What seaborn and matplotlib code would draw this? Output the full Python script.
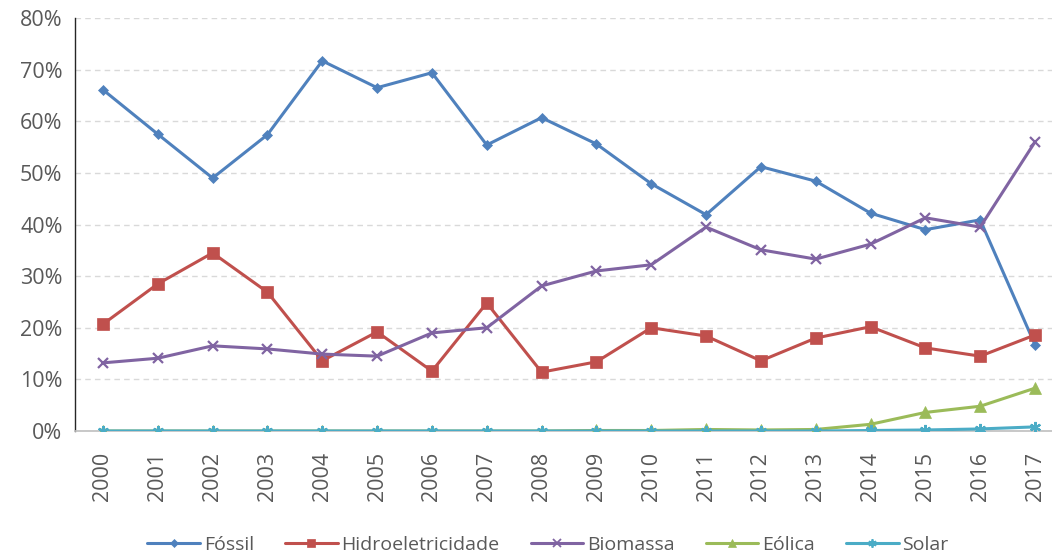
import pandas as pd
import matplotlib.pyplot as plt
import seaborn as sns
import numpy as np
from matplotlib.lines import Line2D

years = [str(y) for y in range(2000, 2018)]

fossil = [66.1, 57.5, 49.0, 57.4, 71.7, 66.5, 69.4, 55.4, 60.7, 55.6,
          47.9, 41.9, 51.2, 48.4, 42.2, 39.0, 40.9, 16.7]
hidro = [20.7, 28.5, 34.5, 26.9, 13.6, 19.2, 11.6, 24.8, 11.4, 13.4,
         20.0, 18.4, 13.6, 18.0, 20.2, 16.1, 14.5, 18.6]
biomassa = [13.2, 14.1, 16.5, 15.9, 14.9, 14.5, 19.0, 20.0, 28.1, 31.0,
            32.2, 39.5, 35.1, 33.3, 36.2, 41.3, 39.5, 56.0]
eolica = [0.0, 0.0, 0.0, 0.0, 0.0, 0.0, 0.0, 0.0, 0.0, 0.1,
          0.1, 0.3, 0.2, 0.3, 1.3, 3.6, 4.8, 8.3]
solar = [0.0, 0.0, 0.0, 0.0, 0.0, 0.0, 0.0, 0.0, 0.0, 0.0,
         0.0, 0.0, 0.0, 0.0, 0.1, 0.2, 0.4, 0.8]

series_names = ['Fóssil', 'Hidroeletricidade', 'Biomassa', 'Eólica', 'Solar']
colors = ['#4F81BD', '#C0504D', '#8064A2', '#9BBB59', '#4BACC6']
markers = ['D', 's', 'x', '^', (6, 2, 0)]
msizes = [5, 8, 7, 8, 8]

# long format for seaborn
rows = []
for name, vals in zip(series_names, [fossil, hidro, biomassa, eolica, solar]):
    for i, v in enumerate(vals):
        rows.append({'pos': i, 'ano': years[i], 'serie': name, 'valor': v})
df = pd.DataFrame(rows)

sns.set_style("white")
plt.rcParams['font.family'] = ['Open Sans', 'DejaVu Sans']

fig = plt.figure(figsize=(10.52, 5.56), dpi=100)
ax = fig.add_axes([0.0713, 0.2248, 0.9287, 0.7428])

for name, c, m, ms in zip(series_names, colors, markers, msizes):
    sub = df[df['serie'] == name]
    sns.lineplot(data=sub, x='pos', y='valor', ax=ax, color=c, linewidth=2.2,
                 marker=m, markersize=ms, markeredgecolor=c, markerfacecolor=c,
                 markeredgewidth=1.6 if m in ('x', (6, 2, 0)) else 0.5,
                 legend=False, zorder=3)

ax.set_xlim(-0.51, 17.31)
ax.set_ylim(0, 80)
ax.set_yticks(np.arange(0, 81, 10))
ax.set_yticklabels([f'{v}%' for v in range(0, 81, 10)], fontsize=15.5, color='#595959')
ax.set_xticks(range(len(years)))
ax.set_xticklabels(years, rotation=90, fontsize=15.5, color='#595959')
ax.tick_params(axis='y', length=0, pad=9)
ax.tick_params(axis='x', length=0, pad=15)
ax.set_xlabel('')
ax.set_ylabel('')

ax.yaxis.grid(True, linestyle=(0, (4, 3)), color='#D9D9D9', linewidth=1)
ax.set_axisbelow(True)
for s in ['top', 'right']:
    ax.spines[s].set_visible(False)
ax.spines['left'].set_color('#262626')
ax.spines['left'].set_linewidth(1)
ax.spines['bottom'].set_color('#BFBFBF')
ax.spines['bottom'].set_linewidth(1.2)

# legend with smaller markers, like the reference
handles = [Line2D([], [], color=c, linewidth=2.2, marker=m, markersize=ms * 0.75,
                  markeredgecolor=c, markerfacecolor=c,
                  markeredgewidth=1.3 if m in ('x', (6, 2, 0)) else 0.5)
           for c, m, ms in zip(colors, markers, msizes)]
fig.legend(handles, series_names, loc='lower center', bbox_to_anchor=(0.521, -0.028),
           ncol=5, frameon=False, fontsize=14, handlelength=2.7,
           columnspacing=1.6, handletextpad=0.2, labelcolor='#595959')

fig.savefig('out.png', dpi=100)
